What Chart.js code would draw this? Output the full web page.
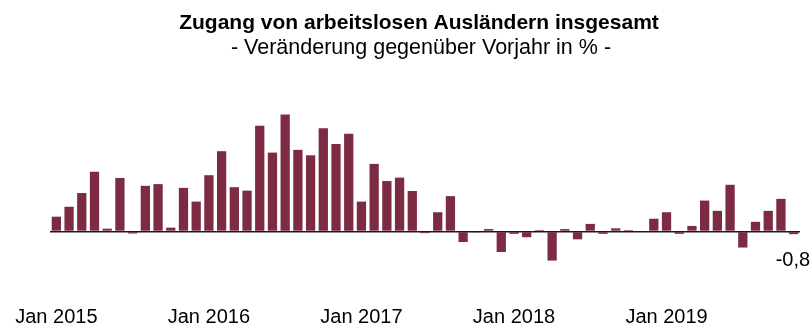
<!DOCTYPE html>
<html>
<head>
<meta charset="utf-8">
<script src="https://cdn.jsdelivr.net/npm/chart.js@4/dist/chart.umd.min.js"></script>
<style>
  html, body { margin: 0; padding: 0; background: #fff; }
  #wrap { width: 812px; height: 326px; }
</style>
</head>
<body>
<div id="wrap"><canvas id="chart" width="812" height="326"></canvas></div>
<script>
// Monthly change vs. previous year, in %, Jan 2015 - Nov 2019
var values2015 = [4.3, 7.2, 11.2, 17.4, 0.8, 15.6, -0.6, 13.3, 13.8, 1.1, 12.7, 8.7];
var values2016 = [16.4, 23.4, 12.9, 11.9, 30.8, 23.0, 34.1, 23.8, 22.2, 30.1, 25.5, 28.5];
var values2017 = [8.7, 19.7, 14.7, 15.7, 11.8, -0.5, 5.6, 10.3, -3.1, -0.3, 0.7, -6.0];
var values2018 = [-0.7, -1.7, 0.4, -8.5, 0.7, -2.3, 2.2, -0.7, 0.9, 0.4, 0.0, 3.7];
var values2019 = [5.6, -0.7, 1.6, 9.0, 6.0, 13.6, -4.7, 2.8, 6.0, 9.5, -0.8];

var years = [2015, 2016, 2017, 2018, 2019];
var monthNames = ['Jan', 'Feb', 'Mär', 'Apr', 'Mai', 'Jun', 'Jul', 'Aug', 'Sep', 'Okt', 'Nov', 'Dez'];

var titleText = 'Zugang von arbeitslosen Ausländern insgesamt';
var subtitleText = '- Veränderung gegenüber Vorjahr in % -';

var values = [].concat(values2015, values2016, values2017, values2018, values2019);

// one category per month
var categories = [];
years.forEach(function (year) {
   monthNames.forEach(function (m) {
      if (categories.length < values.length) categories.push(m + ' ' + year);
   });
});

var barColor = '#7d2b43';
var fontFamily = '"Liberation Sans", Arial, Helvetica, sans-serif';

// two-line heading above the bars
var heading = {
   id: 'heading',
   afterDraw: function (chart) {
      var ctx = chart.ctx;
      ctx.save();
      ctx.fillStyle = '#000';
      ctx.textAlign = 'center';
      ctx.textBaseline = 'alphabetic';
      ctx.font = 'bold 21px ' + fontFamily;
      ctx.fillText(titleText, 419, 29);
      ctx.font = '21.5px ' + fontFamily;
      ctx.fillText(subtitleText, 421, 54);
      ctx.restore();
   }
};

// prints the latest value under its bar
var lastValueLabel = {
   id: 'lastValueLabel',
   afterDatasetsDraw: function (chart) {
      var meta = chart.getDatasetMeta(0);
      var bar = meta.data[meta.data.length - 1];
      var v = values[values.length - 1];
      var ctx = chart.ctx;
      ctx.save();
      ctx.font = '20px ' + fontFamily;
      ctx.fillStyle = '#000';
      ctx.textAlign = 'right';
      ctx.textBaseline = 'alphabetic';
      ctx.fillText(v.toFixed(1).replace('.', ','), bar.x + 16.5, bar.y + 32);
      ctx.restore();
   }
};

var ctx = document.getElementById('chart').getContext('2d');

var newChart = new Chart(ctx, {
   type: 'bar',
   data: {
      labels: categories,
      datasets: [{
         label: subtitleText,
         data: values,
         backgroundColor: barColor,
         barPercentage: 0.73,
         categoryPercentage: 1.0
      }]
   },
   options: {
      responsive: false,
      animation: false,
      layout: { padding: { left: 50, right: 12, top: 60, bottom: 0 } },
      plugins: {
         legend: { display: false },
         tooltip: { enabled: false },
         title: { display: false }
      },
      scales: {
         x: {
            grid: { display: false, drawTicks: false },
            border: { display: false },
            afterFit: function (scale) { scale.height = 26; },
            ticks: {
               autoSkip: false,
               maxRotation: 0,
               padding: 8,
               color: '#000',
               font: { family: fontFamily, size: 20, lineHeight: 0.9 },
               callback: function (value, index) {
                  return index % 12 === 0 ? categories[index] : '';
               }
            }
         },
         y: {
            min: -20,
            max: 50,
            afterFit: function (scale) { scale.width = 0; },
            ticks: { display: false, stepSize: 10 },
            border: { display: false },
            grid: {
               drawTicks: false,
               lineWidth: 1.5,
               color: function (c) {
                  return c.tick && c.tick.value === 0 ? '#1a1a1a' : 'rgba(0,0,0,0)';
               }
            }
         }
      }
   },
   plugins: [heading, lastValueLabel]
});
</script>
</body>
</html>
